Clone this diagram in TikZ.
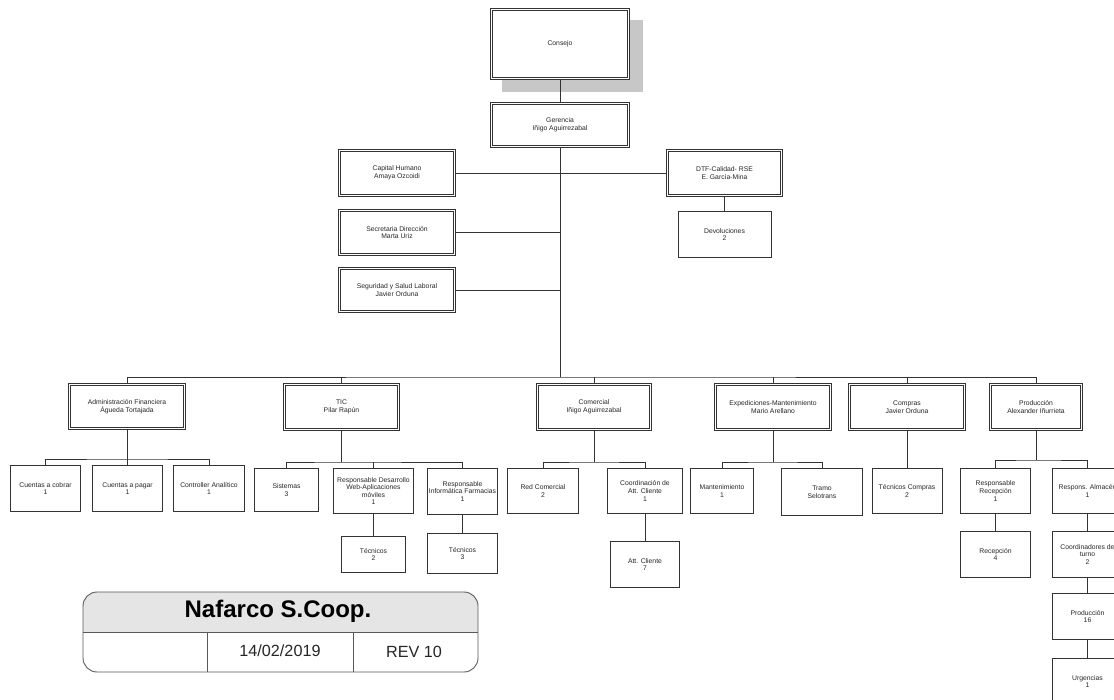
\documentclass[tikz,border=0pt]{standalone}
\usepackage{fontspec}
\setmainfont{Liberation Sans}
\usetikzlibrary{backgrounds}
\begin{document}
\begin{tikzpicture}[x=1pt,y=-1pt,
  every node/.style={inner sep=0pt, outer sep=0pt, align=center,
    font=\fontsize{6.8}{7.6}\selectfont, text=black!85},
  dbox/.style 2 args={draw=black!80, line width=0.8pt, double, double distance=1.4pt,
    fill=white, minimum width=#1pt, minimum height=#2pt},
  sbox/.style 2 args={draw=black!80, line width=0.8pt, fill=white,
    minimum width=#1pt, minimum height=#2pt},
  conn/.style={draw=black!80, line width=0.8pt}]
\useasboundingbox (0,0) rectangle (1114,700);
\clip (0,0) rectangle (1114,700);

% top
\node[dbox={137}{69}] (consejo) at (560,44) {Consejo};
\node[dbox={137}{43}] (gerencia) at (560,125) {Gerencia\\Iñigo Aguirrezabal};
\node[dbox={115}{45}] (capital) at (397,173) {Capital Humano\\Amaya Ozcoidi};
\node[dbox={115}{44}] (secretaria) at (397,232.5) {Secretaria Dirección\\Marta Uriz};
\node[dbox={115}{43}] (seguridad) at (397,290) {Seguridad y Salud Laboral\\Javier Orduna};
\node[dbox={114}{45}] (dtf) at (724.5,173) {DTF-Calidad- RSE\\E. García-Mina};
\node[sbox={93}{46}] (devol) at (724.5,234.5) {Devoluciones\\2};

% departments
\node[dbox={115}{44}] (admin) at (127,406.5) {Administración Financiera\\Águeda Tortajada};
\node[dbox={114}{45}] (tic) at (341.5,407) {TIC\\Pilar Rapún};
\node[dbox={113}{45}] (comercial) at (594,407) {Comercial\\Iñigo Aguirrezabal};
\node[dbox={115}{45}] (exped) at (773,407) {Expediciones-Mantenimiento\\Mario Arellano};
\node[dbox={115}{45}] (compras) at (907,407) {Compras\\Javier Orduna};
\node[dbox={91}{45}] (produccion) at (1036,407) {Producción\\Alexander Iñurrieta};

% second level
\node[sbox={70}{46}] (cobrar) at (45.5,488.5) {Cuentas a cobrar\\1};
\node[sbox={70}{46}] (pagar) at (127.5,488.5) {Cuentas a pagar\\1};
\node[sbox={71}{46}] (controller) at (209,488.5) {Controller Analítico\\1};
\node[sbox={64}{43}] (sistemas) at (286.5,490) {Sistemas\\3};
\node[sbox={80}{45}] (desarrollo) at (373.5,491) {Responsable Desarrollo\\Web-Aplicaciones\\móviles\\1};
\node[sbox={70}{46}] (informatica) at (462.5,491.5) {Responsable\\Informática Farmacias\\1};
\node[sbox={64}{36}] (tec2) at (373.5,554.5) {Técnicos\\2};
\node[sbox={70}{40}] (tec3) at (462.5,553.5) {Técnicos\\3};
\node[sbox={71}{45}] (red) at (543,491) {Red Comercial\\2};
\node[sbox={75}{45}] (coord) at (645,491) {Coordinación de\\Att. Cliente\\1};
\node[sbox={69}{46}] (att) at (645,564.5) {Att. Cliente\\7};
\node[sbox={63}{45}] (mant) at (722,491) {Mantenimiento\\1};
\node[sbox={81}{47}] (tramo) at (822,492) {Tramo\\Selotrans};
\node[sbox={70}{45}] (tcompras) at (907,491) {Técnicos Compras\\2};
\node[sbox={70}{45}] (resprec) at (995.5,491) {Responsable\\Recepción\\1};
\node[sbox={70}{45}] (respalm) at (1087.5,491) {Respons. Almacén\\1};
\node[sbox={70}{46}] (recepcion) at (995.5,554.5) {Recepción\\4};
\node[sbox={70}{46}] (coordturno) at (1087.5,554.5) {Coordinadores de\\turno\\2};
\node[sbox={70}{46}] (prod16) at (1087.5,616.5) {Producción\\16};
\node[sbox={70}{46}] (urg) at (1087.5,681.5) {Urgencias\\1};

\begin{scope}[on background layer]
\fill[black!22] (502,20) rectangle (643,92);
\draw[conn] (consejo.south) -- (gerencia.north);
\coordinate (bus) at (560,377);
\draw[conn] (gerencia.south) -- (bus);
\draw[conn] (capital.east) -- (capital.east -| dtf.west);
\draw[conn] (secretaria.east) -- (secretaria.east -| bus);
\draw[conn] (seguridad.east) -- (seguridad.east -| bus);
\draw[conn] (dtf.south) -- (devol.north);
\draw[conn] (admin.north) |- (bus) -| (produccion.north);
\foreach \n in {tic,comercial,exped,compras} \draw[conn] (\n.north) -- (\n.north |- bus);
% admin
\coordinate (adminbus) at (127,459);
\draw[conn] (admin.south) -- (adminbus);
\draw[conn] (cobrar.north) |- (adminbus) -| (controller.north);
\draw[conn] (pagar.north) -- (pagar.north |- adminbus);
% tic
\coordinate (ticbus) at (341.5,462);
\draw[conn] (tic.south) -- (ticbus);
\draw[conn] (sistemas.north) |- (ticbus) -| (informatica.north);
\draw[conn] (desarrollo.north) -- (desarrollo.north |- ticbus);
\draw[conn] (desarrollo.south) -- (tec2.north);
\draw[conn] (informatica.south) -- (tec3.north);
% comercial
\coordinate (combus) at (594,462);
\draw[conn] (comercial.south) -- (combus);
\draw[conn] (red.north) |- (combus) -| (coord.north);
\draw[conn] (coord.south) -- (att.north);
% expediciones
\coordinate (expbus) at (773,462);
\draw[conn] (exped.south) -- (expbus);
\draw[conn] (mant.north) |- (expbus) -| (tramo.north);
% compras
\draw[conn] (compras.south) -- (tcompras.north);
% produccion
\coordinate (prodbus) at (1036,460);
\draw[conn] (produccion.south) -- (prodbus);
\draw[conn] (resprec.north) |- (prodbus) -| (respalm.north);
\draw[conn] (resprec.south) -- (recepcion.north);
\draw[conn] (respalm.south) -- (coordturno.north);
\draw[conn] (coordturno.south) -- (prod16.north);
\draw[conn] (prod16.south) -- (urg.north);
\end{scope}

% title block
\begin{scope}
\clip[rounded corners=14pt] (83,592) rectangle (478,672);
\fill[black!10] (83,592) rectangle (478,632);
\end{scope}
\draw[black!65, line width=0.9pt, rounded corners=14pt] (83,592) rectangle (478,672);
\draw[black!65, line width=0.9pt] (83,632) -- (478,632);
\draw[black!65, line width=0.9pt] (207,632) -- (207,672);
\draw[black!65, line width=0.9pt] (353,632) -- (353,672);
\node[font=\fontsize{24}{28}\selectfont\bfseries, text=black] (title) at (278,611) {Nafarco S.Coop.};
\node[font=\fontsize{16.2}{19}\selectfont, text=black!85] (date) at (280,651) {14/02/2019};
\node[font=\fontsize{16.2}{19}\selectfont, text=black!85] (rev) at (414,652) {REV 10};
\end{tikzpicture}
\end{document}
